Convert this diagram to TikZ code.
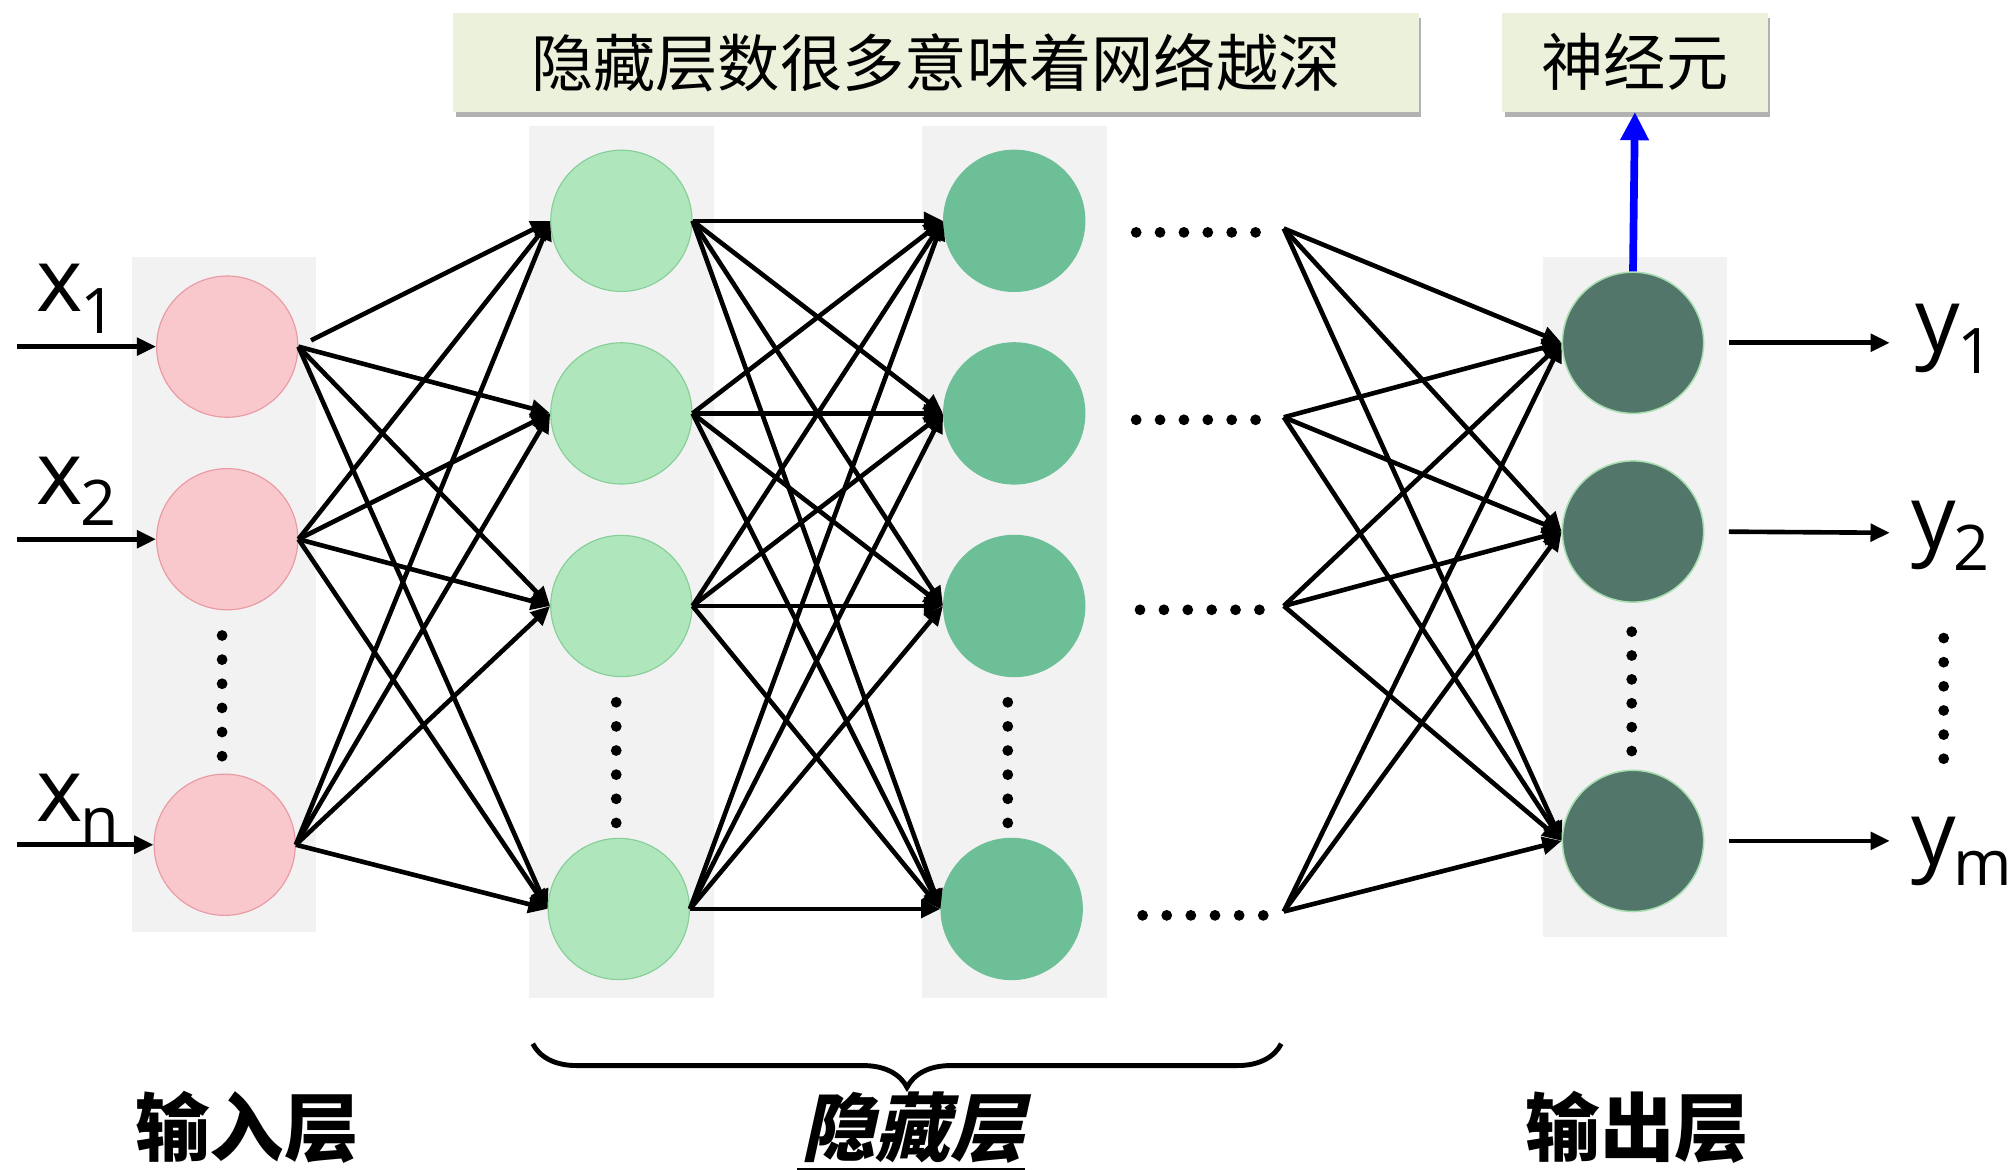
\documentclass[tikz,border=0pt]{standalone}
\usepackage{fontspec}
\setmainfont{Open Sans}
\newfontfamily\cjk{Noto Sans CJK SC}
\newfontfamily\cjksl{Noto Sans CJK SC}[FakeSlant=0.22]
\usetikzlibrary{arrows.meta,decorations.pathreplacing,shadows}
\definecolor{band}{HTML}{F2F2F2}
\definecolor{inFill}{HTML}{F8C8CC}
\definecolor{inDraw}{HTML}{EA9AA2}
\definecolor{hAFill}{HTML}{AFE6BB}
\definecolor{hADraw}{HTML}{86CF98}
\definecolor{hBFill}{HTML}{6DBF97}
\definecolor{outFill}{HTML}{52776A}
\definecolor{outDraw}{HTML}{A8DDB0}
\definecolor{noteFill}{HTML}{EBF1DA}
\begin{document}
\begin{tikzpicture}[x=1pt,y=-1pt,
  neuron/.style={circle, minimum size=110pt, inner sep=0pt, line width=0.9pt},
  inneuron/.style={neuron, fill=inFill, draw=inDraw},
  haneuron/.style={neuron, fill=hAFill, draw=hADraw},
  hbneuron/.style={neuron, fill=hBFill, draw=hBFill},
  outneuron/.style={neuron, fill=outFill, draw=outDraw, line width=1.2pt},
  conn/.style={line width=3.6pt, -{Triangle[length=15pt,width=13.5pt]}},
  note/.style={rectangle, fill=noteFill, inner sep=0pt, minimum height=77pt,
    drop shadow={shadow xshift=2pt, shadow yshift=-4pt, fill=black!60, opacity=0.5},
    font=\cjk\fontsize{48.5}{48.5}\selectfont},
  blab/.style={inner sep=0pt, font=\cjk\bfseries\fontsize{58}{58}\selectfont},
  dotc/.style={fill=black},
]
\fill[white] (0,0) rectangle (1568,911);
\useasboundingbox (0,0) rectangle (1568,911);

% gray bands
\fill[band] (103,200) rectangle (246,726);
\fill[band] (412,98) rectangle (556,777);
\fill[band] (718,98) rectangle (862,777);
\fill[band] (1202,200) rectangle (1345,730);

% notes
\node[note, minimum width=752pt] (note1) at (729,48.5) {隐藏层数很多意味着网络越深};
\node[note, minimum width=207pt] (note2) at (1273.5,48.5) {神经元};

% neurons
\node[inneuron] (in1) at (177,270) {};
\node[inneuron] (in2) at (177,420) {};
\node[inneuron] (inn) at (175,658) {};
\node[haneuron] (h11) at (484,172) {};
\node[haneuron] (h12) at (484,322) {};
\node[haneuron] (h13) at (484,472) {};
\node[haneuron] (h14) at (482,708) {};
\node[hbneuron] (h21) at (790,172) {};
\node[hbneuron] (h22) at (790,322) {};
\node[hbneuron] (h23) at (790,472) {};
\node[hbneuron] (h24) at (788,708) {};
\node[outneuron] (out1) at (1272,267) {};
\node[outneuron] (out2) at (1272,414) {};
\node[outneuron] (out3) at (1272,655) {};

% fan points
\coordinate (f1) at (1000,178);
\coordinate (f2) at (1000,325);
\coordinate (f3) at (1000,472);
\coordinate (f4) at (1000,710);

% input -> hidden 1
\draw[conn, shorten <=11pt] (in1.east) -- (h11.west);
\foreach \b in {h12,h13,h14} \draw[conn] (in1.east) -- (\b.west);
\foreach \a in {in2,inn}
  \foreach \b in {h11,h12,h13,h14}
    \draw[conn] (\a.east) -- (\b.west);

% hidden 1 -> hidden 2
\foreach \a in {h11,h12,h13,h14}
  \foreach \b in {h21,h22,h23,h24}
    \draw[conn] (\a.east) -- (\b.west);

% fan -> output
\foreach \a in {f1,f2,f3,f4}
  \foreach \b in {out1,out2,out3}
    \draw[conn] (\a) -- (\b.west);

% input arrows
\coordinate (xs1) at (13,270);
\coordinate (xs2) at (13,420);
\coordinate (xsn) at (13,658);
\draw[conn] (xs1) -- (in1.west);
\draw[conn] (xs2) -- (in2.west);
\draw[conn] (xsn) -- (inn.west);

% output arrows
\coordinate (ye1) at (1472,267);
\coordinate (ye2) at (1472,415);
\coordinate (yem) at (1472,655);
\draw[conn, shorten <=19pt] (out1.east) -- (ye1);
\draw[conn, shorten <=19pt] (out2.east) -- (ye2);
\draw[conn, shorten <=19pt] (out3.east) -- (yem);

% blue arrow
\draw[blue, line width=6pt, -{Triangle[length=22pt,width=21pt]}] (out1.north) -- (note2.south);

% labels x
\node[anchor=base west, inner sep=0pt] (lx1) at (28,243) {\fontsize{69}{69}\selectfont x\kern-2pt\raisebox{-16.5pt}{\fontsize{49}{49}\selectfont 1}};
\node[anchor=base west, inner sep=0pt] (lx2) at (28,393) {\fontsize{69}{69}\selectfont x\kern-2pt\raisebox{-16.5pt}{\fontsize{49}{49}\selectfont 2}};
\node[anchor=base west, inner sep=0pt] (lxn) at (28,640) {\fontsize{69}{69}\selectfont x\kern-2pt\raisebox{-16.5pt}{\fontsize{49}{49}\selectfont n}};
% labels y
\node[anchor=base west, inner sep=0pt] (ly1) at (1492,274) {\fontsize{69}{69}\selectfont y\kern-2pt\raisebox{-17pt}{\fontsize{49}{49}\selectfont 1}};
\node[anchor=base west, inner sep=0pt] (ly2) at (1489,427) {\fontsize{69}{69}\selectfont y\kern-2pt\raisebox{-17pt}{\fontsize{49}{49}\selectfont 2}};
\node[anchor=base west, inner sep=0pt] (lym) at (1489,673) {\fontsize{69}{69}\selectfont y\kern-2pt\raisebox{-17pt}{\fontsize{49}{49}\selectfont m}};

% vertical dots
\foreach \x/\ya/\yb in {173/495/589, 480/547/641, 785/547/641, 1271/492/585, 1514/497/591}
  \foreach \i in {0,...,5}
    \fill[dotc] (\x,{\ya+\i*(\yb-\ya)/5}) circle (4.2pt);
% horizontal dots
\foreach \xa/\xb/\y in {885/978/181, 885/978/327, 888/981/475, 890/984/713}
  \foreach \i in {0,...,5}
    \fill[dotc] ({\xa+\i*(\xb-\xa)/5},\y) circle (4.2pt);

% brace
\draw[line width=3.8pt, decorate, decoration={brace, amplitude=34pt}] (998,813) -- (415,813);

% bottom labels
\node[blab] (lin) at (192.5,878) {输入层};
\node[blab, font=\cjksl\bfseries\fontsize{58}{58}\selectfont] (lhid) at (711,878) {隐藏层};
\draw[line width=3pt] (lhid.south west) ++(-3,5) coordinate (ul1) -- (lhid.south east |- ul1);
\node[blab] (lout) at (1275.5,878) {输出层};
\end{tikzpicture}
\end{document}
